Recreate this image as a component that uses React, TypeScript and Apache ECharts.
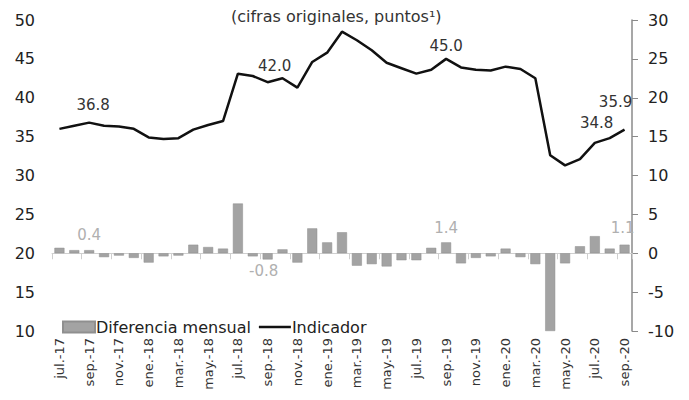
import React, { useEffect, useRef } from "react";
import * as echarts from "echarts";

const months: string[] = [
  "jul.-17", "ago.-17", "sep.-17", "oct.-17", "nov.-17", "dic.-17",
  "ene.-18", "feb.-18", "mar.-18", "abr.-18", "may.-18", "jun.-18",
  "jul.-18", "ago.-18", "sep.-18", "oct.-18", "nov.-18", "dic.-18",
  "ene.-19", "feb.-19", "mar.-19", "abr.-19", "may.-19", "jun.-19",
  "jul.-19", "ago.-19", "sep.-19", "oct.-19", "nov.-19", "dic.-19",
  "ene.-20", "feb.-20", "mar.-20", "abr.-20", "may.-20", "jun.-20",
  "jul.-20", "ago.-20", "sep.-20",
];

const indicador: number[] = [
  36.0, 36.4, 36.8, 36.4, 36.3, 36.0,
  34.9, 34.7, 34.8, 35.9, 36.5, 37.0,
  43.1, 42.8, 42.0, 42.5, 41.3, 44.6,
  45.8, 48.5, 47.4, 46.1, 44.5, 43.8,
  43.1, 43.6, 45.0, 43.9, 43.6, 43.5,
  44.0, 43.7, 42.5, 32.6, 31.3, 32.1,
  34.2, 34.8, 35.9,
];

const diferencia: number[] = [
  0.7, 0.4, 0.4, -0.5, -0.3, -0.6,
  -1.2, -0.4, -0.3, 1.1, 0.8, 0.6,
  6.4, -0.4, -0.8, 0.5, -1.2, 3.2,
  1.4, 2.7, -1.6, -1.4, -1.7, -0.9,
  -0.9, 0.7, 1.4, -1.3, -0.6, -0.4,
  0.6, -0.5, -1.4, -10.0, -1.3, 0.9,
  2.2, 0.6, 1.1,
];

const leftTicks = { min: 10, max: 50, interval: 5 };
const rightTicks = { min: -10, max: 30, interval: 5 };

// indices of labelled points
const lineLabelIdx: number[] = [2, 14, 26, 37, 38];
const barLabelIdx: number[] = [2, 14, 26, 38];

const FONT = "DejaVu Sans";

export default function App() {
  const ref = useRef<HTMLDivElement>(null);

  useEffect(() => {
    if (!ref.current) return;
    const chart = echarts.init(ref.current, undefined, { renderer: "svg" });

    const lineOffsets: Record<number, number[]> = {
      2: [4, -5],
      14: [7, -3],
      26: [0, 0],
      37: [-13, -2],
      38: [-9, -15],
    };
    const barOffsets: Record<number, number[]> = {
      2: [0, -3],
      14: [-4, -1],
      26: [0, -2],
      38: [-2, -4],
    };

    const lineLabelData = indicador.map((v, i) =>
      lineLabelIdx.includes(i)
        ? {
            value: v,
            label: {
              show: true,
              position: "top",
              offset: lineOffsets[i],
              formatter: (p: any) => Number(p.value).toFixed(1),
            },
          }
        : "-"
    );

    const barData = diferencia.map((v, i) =>
      barLabelIdx.includes(i)
        ? {
            value: v,
            label: {
              show: true,
              position: v < 0 ? "bottom" : "top",
              offset: barOffsets[i],
              formatter: (p: any) => Number(p.value).toFixed(1),
            },
          }
        : { value: v }
    );

    chart.setOption({
      animation: false,
      textStyle: { fontFamily: FONT },
      grid: { left: 52, right: 57, top: 20, bottom: 69, containLabel: false },
      graphic: [
        {
          type: "text",
          left: 231,
          top: 8,
          style: {
            text: "(cifras originales, puntos¹)",
            font: `16px "${FONT}"`,
            fill: "#333",
          },
        },
      ],
      legend: {
        left: 57,
        top: 314,
        itemWidth: 32,
        itemHeight: 11,
        itemGap: 8,
        textStyle: { fontSize: 16, color: "#222", fontFamily: FONT, padding: [0, 0, 0, -4] },
        data: [
          { name: "Diferencia mensual", icon: "rect" },
          {
            name: "Indicador",
            icon: "path://M0,0 L32,0 L32,2.5 L0,2.5 Z",
            itemStyle: { color: "#111" },
          },
        ],
      },
      xAxis: {
        type: "category",
        data: months,
        boundaryGap: true,
        axisLine: { show: true, lineStyle: { color: "#cfcfcf", width: 1 } },
        axisTick: { show: true, interval: 1, length: 6, lineStyle: { color: "#cfcfcf" } },
        axisLabel: {
          interval: 1,
          rotate: 90,
          margin: 7,
          fontSize: 13,
          color: "#333",
          fontFamily: FONT,
        },
      },
      yAxis: [
        {
          type: "value",
          min: leftTicks.min,
          max: leftTicks.max,
          interval: leftTicks.interval,
          axisLine: { show: false },
          axisTick: { show: false },
          splitLine: { show: false },
          axisLabel: { fontSize: 16, color: "#222", margin: 17, fontFamily: FONT },
        },
        {
          type: "value",
          position: "right",
          min: rightTicks.min,
          max: rightTicks.max,
          interval: rightTicks.interval,
          axisLine: { show: true, lineStyle: { color: "#8a8a8a", width: 1.5 } },
          axisTick: { show: true, length: 6, lineStyle: { color: "#8a8a8a" } },
          splitLine: { show: false },
          axisLabel: { fontSize: 16, color: "#222", margin: 16, fontFamily: FONT },
        },
      ],
      series: [
        {
          name: "Diferencia mensual",
          type: "bar",
          yAxisIndex: 1,
          data: barData,
          barWidth: 10,
          itemStyle: { color: "#a3a3a3", borderColor: "#8f8f8f", borderWidth: 0.5 },
          label: { color: "#b0b0b0", fontSize: 15, fontFamily: FONT },
          z: 2,
        },
        {
          name: "Indicador",
          type: "line",
          yAxisIndex: 0,
          data: indicador,
          symbol: "none",
          lineStyle: { color: "#111", width: 2.5 },
          itemStyle: { color: "#111" },
          z: 3,
        },
        {
          name: "labels",
          type: "line",
          yAxisIndex: 0,
          data: lineLabelData,
          symbol: "circle",
          symbolSize: 1,
          showSymbol: true,
          connectNulls: false,
          lineStyle: { width: 0, opacity: 0 },
          itemStyle: { color: "transparent" },
          label: { color: "#333", fontSize: 15, fontFamily: FONT },
          silent: true,
          z: 4,
        },
      ],
    });

    return () => chart.dispose();
  }, []);

  return <div ref={ref} style={{ width: 689, height: 400, position: "absolute", left: 0, top: 0 }} />;
}
